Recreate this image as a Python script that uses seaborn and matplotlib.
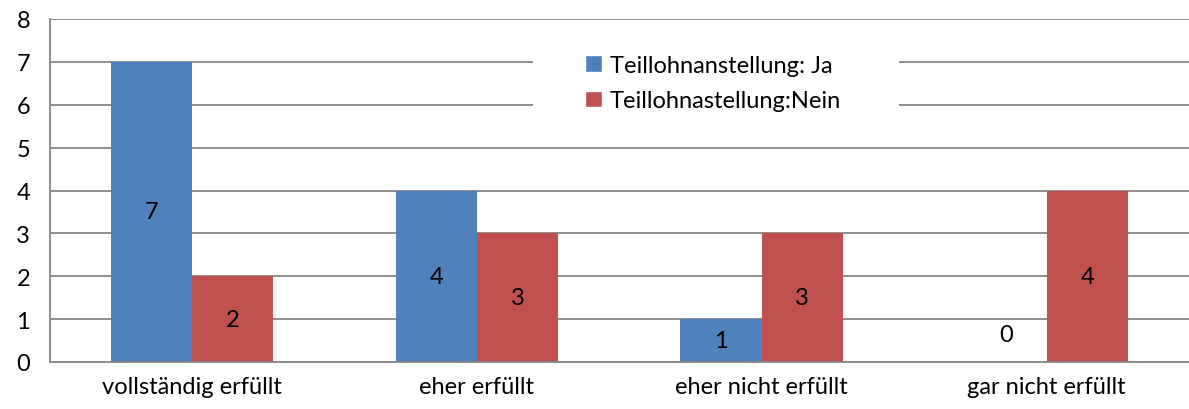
import pandas as pd
import seaborn as sns
import matplotlib.pyplot as plt
from matplotlib.patches import Rectangle

# Daten
kategorien = ["vollständig erfüllt", "eher erfüllt", "eher nicht erfüllt", "gar nicht erfüllt"]
ja = [7, 4, 1, 0]
nein = [2, 3, 3, 4]
serien = ["Teillohnanstellung: Ja", "Teillohnastellung:Nein"]
farben = ["#4F81BD", "#C0504D"]

df = pd.DataFrame({
    "Kategorie": kategorien * 2,
    "Wert": ja + nein,
    "Serie": [serien[0]] * 4 + [serien[1]] * 4,
})

sns.set_style("white")
plt.rcParams["font.family"] = ["Lato", "DejaVu Sans"]
plt.rcParams["text.color"] = "black"
plt.rcParams["xtick.color"] = "black"
plt.rcParams["ytick.color"] = "black"
fs = 17

fig = plt.figure(figsize=(11.89, 4.10), dpi=100)
ax = fig.add_axes([49.5 / 1189, 47 / 410, 1139.5 / 1189, 343 / 410])

sns.barplot(data=df, x="Kategorie", y="Wert", hue="Serie", palette=farben,
            width=0.57, saturation=1, ax=ax, legend=False, zorder=2, linewidth=0)

grau = "#868686"
ax.set_ylim(0, 8)
ax.set_xlim(-0.5, 3.5)
ax.set_yticks(range(9))
ax.yaxis.grid(True, color=grau, linewidth=1.3, zorder=0)
ax.set_axisbelow(True)
ax.set_xlabel("")
ax.set_ylabel("")
for s in ["top", "right"]:
    ax.spines[s].set_visible(False)
for s in ["left", "bottom"]:
    ax.spines[s].set_color(grau)
    ax.spines[s].set_linewidth(1.3)

# Kategorien-Ticks zwischen den Gruppen
ax.set_xticks([i + 0.5 for i in range(-1, 4)], minor=True)
ax.tick_params(axis="x", which="minor", length=8, color=grau, width=1.3)
ax.tick_params(axis="x", which="major", length=0, labelsize=fs, pad=10)
ax.tick_params(axis="y", length=8, color=grau, width=1.3, labelsize=fs, pad=6)

# Beschriftungen in den Balken
for cont in ax.containers:
    for bar in cont:
        h = bar.get_height()
        y = h / 2 if h > 0 else 0.65
        ax.text(bar.get_x() + bar.get_width() / 2, y, f"{int(h)}",
                ha="center", va="center", fontsize=fs, zorder=4)

# weisser Hintergrund der Legende
ax.add_patch(Rectangle(((533 - 49.5) / 1139.5, (363 - 125) / 343),
                       (899 - 533) / 1139.5, 80 / 343, transform=ax.transAxes,
                       facecolor="white", edgecolor="none", zorder=1))
handles = [Rectangle((0, 0), 1, 1, facecolor=f) for f in farben]
ax.legend(handles, serien, loc="center left", frameon=False, fontsize=fs,
          bbox_to_anchor=((573 - 49.5) / 1139.5, (363 - 84) / 343),
          handlelength=0.72, handleheight=0.72, handletextpad=0.35,
          labelspacing=0.62, borderpad=0)

fig.savefig("out.png", dpi=100)
